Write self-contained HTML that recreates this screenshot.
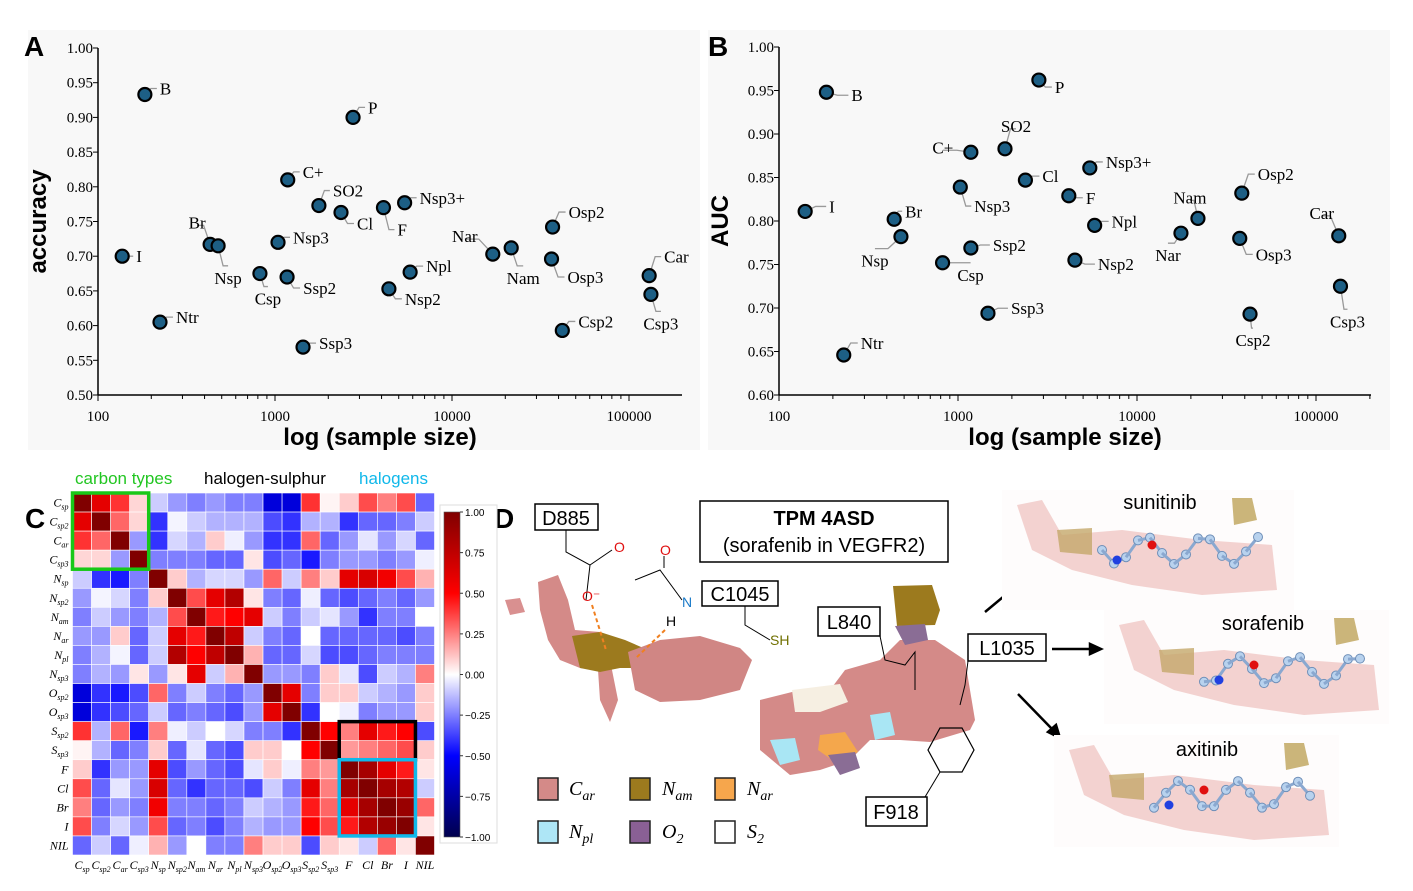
<!DOCTYPE html>
<html><head><meta charset="utf-8"><style>
html,body{margin:0;padding:0;background:#fff;}
svg{display:block;font-family:"Liberation Sans",sans-serif;}
.serif{font-family:"Liberation Serif",serif;}
</style></head><body>
<svg id="fig" width="1413" height="891" viewBox="0 0 1413 891" xmlns="http://www.w3.org/2000/svg">
<rect x="28" y="30" width="672" height="420" fill="#f8f8f8"/>
<rect x="708" y="30" width="682" height="420" fill="#f8f8f8"/>
<g id="pa"></g>
<g id="pb"></g>
<text x="24" y="56" font-size="28" font-weight="bold">A</text>
<text x="708" y="56" font-size="28" font-weight="bold">B</text>
<text x="25" y="528" font-size="28" font-weight="bold">C</text>
<text x="494" y="528" font-size="28" font-weight="bold">D</text>
<text x="75" y="484" font-size="17" fill="#22c622">carbon types</text>
<text x="204" y="484" font-size="17" fill="#000">halogen-sulphur</text>
<text x="359" y="484" font-size="17" fill="#10b8ea">halogens</text>
<g id="pc"></g>
<g id="pd">
  <path d="M505,600 L520,598 L525,612 L510,615Z" fill="#d99090"/>
  <path d="M538,582 L558,575 L568,600 L575,630 L600,632 L610,660 L618,700 L610,722 L600,700 L598,670 L580,668 L560,660 L548,640 L540,610Z" fill="#d48a88"/>
  <path d="M572,636 L600,632 L625,640 L648,650 L640,668 L620,668 L600,672 L580,668Z" fill="#9c7a1e"/>
  <path d="M628,652 L660,640 L700,636 L740,648 L752,660 L740,690 L700,700 L660,702 L635,690Z" fill="#d08684"/>
  <path d="M760,700 L800,690 L830,690 L845,670 L880,660 L900,640 L935,640 L965,660 L975,720 L970,730 L930,742 L900,740 L870,740 L850,760 L820,770 L790,775 L760,750Z" fill="#d48a88"/>
  <path d="M792,690 L840,684 L848,702 L820,712 L795,712Z" fill="#f6efe2"/>
  <path d="M893,586 L932,585 L940,610 L935,625 L897,626Z" fill="#9c7a1e"/>
  <path d="M895,626 L925,624 L928,640 L905,645Z" fill="#8a6d95"/>
  <path d="M770,740 L795,738 L800,760 L780,765Z" fill="#a9e6f4"/>
  <path d="M820,735 L845,732 L858,752 L835,762 L818,750Z" fill="#f4a74c"/>
  <path d="M828,755 L855,752 L860,768 L840,775Z" fill="#8a6d95"/>
  <path d="M870,715 L890,712 L895,735 L875,740Z" fill="#a9e6f4"/>
  <polyline points="566,530 566,552 590,565 586,600" fill="none" stroke="#000" stroke-width="1"/>
  <line x1="590" y1="565" x2="612" y2="550" stroke="#000" stroke-width="1"/>
  <text x="614" y="552" font-size="14" fill="#e01010">O</text>
  <text x="582" y="601" font-size="14" fill="#e01010">O⁻</text>
  <polyline points="635,580 660,570 682,600" fill="none" stroke="#000" stroke-width="1"/>
  <line x1="664" y1="568" x2="664" y2="556" stroke="#000" stroke-width="1"/>
  <text x="660" y="555" font-size="14" fill="#e01010">O</text>
  <text x="682" y="607" font-size="14" fill="#1a7ac8">N</text>
  <text x="666" y="626" font-size="14">H</text>
  <line x1="592" y1="605" x2="606" y2="650" stroke="#f08020" stroke-width="2" stroke-dasharray="4,3"/>
  <line x1="665" y1="630" x2="636" y2="658" stroke="#f08020" stroke-width="2" stroke-dasharray="4,3"/>
  <polyline points="745,606 745,625 770,640" fill="none" stroke="#000" stroke-width="1"/>
  <text x="770" y="645" font-size="14" fill="#707000">SH</text>
  <polyline points="880,636 885,660 905,665 915,652 915,690" fill="none" stroke="#000" stroke-width="1"/>
  <polyline points="968,661 965,685 960,705" fill="none" stroke="#000" stroke-width="1"/>
  <polygon points="940,728 962,728 974,750 962,772 940,772 928,750" fill="none" stroke="#000" stroke-width="1.2"/>
  <line x1="940" y1="772" x2="925" y2="797" stroke="#000" stroke-width="1"/>
  <rect x="535" y="504" width="63" height="26" fill="#fff" stroke="#000" stroke-width="1.5"/>
  <text x="566" y="525" font-size="20" text-anchor="middle">D885</text>
  <rect x="700" y="501" width="248" height="61" fill="#fff" stroke="#000" stroke-width="1.5"/>
  <text x="824" y="525" font-size="20" font-weight="bold" text-anchor="middle">TPM 4ASD</text>
  <text x="824" y="552" font-size="20" text-anchor="middle">(sorafenib in VEGFR2)</text>
  <rect x="702" y="581" width="76" height="25" fill="#fff" stroke="#000" stroke-width="1.5"/>
  <text x="740" y="601" font-size="20" text-anchor="middle">C1045</text>
  <rect x="818" y="607" width="62" height="29" fill="#fff" stroke="#000" stroke-width="1.5"/>
  <text x="849" y="629" font-size="20" text-anchor="middle">L840</text>
  <rect x="968" y="634" width="78" height="27" fill="#fff" stroke="#000" stroke-width="1.5"/>
  <text x="1007" y="655" font-size="20" text-anchor="middle">L1035</text>
  <rect x="866" y="797" width="61" height="29" fill="#fff" stroke="#000" stroke-width="1.5"/>
  <text x="896" y="819" font-size="20" text-anchor="middle">F918</text>
  <g class="serif" font-style="italic" font-size="20">
    <rect x="538" y="778" width="20" height="22" fill="#d48a88" stroke="#222" stroke-width="1.5"/>
    <text x="569" y="795">C<tspan font-size="14" dy="5">ar</tspan></text>
    <rect x="630" y="778" width="20" height="22" fill="#9c7a1e" stroke="#222" stroke-width="1.5"/>
    <text x="662" y="795">N<tspan font-size="14" dy="5">am</tspan></text>
    <rect x="715" y="778" width="20" height="22" fill="#f6a64c" stroke="#222" stroke-width="1.5"/>
    <text x="747" y="795">N<tspan font-size="14" dy="5">ar</tspan></text>
    <rect x="538" y="821" width="20" height="22" fill="#aee6f6" stroke="#222" stroke-width="1.5"/>
    <text x="569" y="838">N<tspan font-size="14" dy="5">pl</tspan></text>
    <rect x="630" y="821" width="20" height="22" fill="#8a6095" stroke="#222" stroke-width="1.5"/>
    <text x="662" y="838">O<tspan font-size="14" dy="5">2</tspan></text>
    <rect x="715" y="821" width="20" height="22" fill="#fff" stroke="#222" stroke-width="1.5"/>
    <text x="747" y="838">S<tspan font-size="14" dy="5">2</tspan></text>
  </g>
  <g stroke="#000" stroke-width="2.5" fill="#000">
    <line x1="985" y1="612" x2="1038" y2="568"/>
    <polygon points="1046,562 1031,566 1038,574"/>
    <line x1="1052" y1="649" x2="1092" y2="649"/>
    <polygon points="1101,649 1090,644 1090,654"/>
    <line x1="1018" y1="694" x2="1053" y2="730"/>
    <polygon points="1060,738 1056,725 1048,732"/>
  </g>
  <g id="ligands"></g>
  <text x="1160" y="509" font-size="20" text-anchor="middle">sunitinib</text>
  <text x="1263" y="630" font-size="20" text-anchor="middle">sorafenib</text>
  <text x="1207" y="756" font-size="20" text-anchor="middle">axitinib</text>
</g>
</svg>
<script>
const NS="http://www.w3.org/2000/svg";
const labelsA=["I","B","Ntr","Br","Nsp","Csp","Ssp2","Nsp3","C+","SO2","Cl","P","Ssp3","F","Nsp3+","Nsp2","Npl","Nar","Nam","Osp2","Osp3","Csp2","Car","Csp3"];
const sizesA=[137,184,224,430,477,822,1170,1040,1180,1770,2360,2760,1440,4100,5400,4400,5800,17000,21600,37000,36500,42000,130000,133000];
const accuracyA=[0.700,0.933,0.605,0.717,0.715,0.675,0.670,0.720,0.810,0.773,0.763,0.900,0.569,0.770,0.777,0.653,0.677,0.703,0.712,0.742,0.696,0.593,0.672,0.645];
const labelsB=["B","I","Br","Nsp","Ntr","Csp","Nsp3","C+","Ssp2","Ssp3","SO2","P","Cl","F","Nsp3+","Npl","Nsp2","Nar","Nam","Osp2","Osp3","Csp2","Car","Csp3"];
const sizesB=[184,140,440,480,230,820,1030,1180,1180,1470,1830,2830,2380,4160,5450,5800,4500,17600,21900,38500,37500,42800,134000,137000];
const aucB=[0.948,0.811,0.802,0.782,0.646,0.752,0.839,0.879,0.769,0.694,0.883,0.962,0.847,0.829,0.861,0.795,0.755,0.786,0.803,0.832,0.780,0.693,0.783,0.725];
const yTicksA=["0.50","0.55","0.60","0.65","0.70","0.75","0.80","0.85","0.90","0.95","1.00"];
const yTicksB=["0.60","0.65","0.70","0.75","0.80","0.85","0.90","0.95","1.00"];
const xTicks=["100","1000","10000","100000"];
const offA=[[14,0,"s"],[15,-6,"s"],[16,-5,"s"],[-13,-22,"m"],[10,32,"m"],[8,25,"m"],[16,11,"s"],[15,-5,"s"],[15,-8,"s"],[14,-15,"s"],[16,11,"s"],[15,-10,"s"],[16,-4,"s"],[14,22,"s"],[15,-5,"s"],[16,10,"s"],[16,-6,"s"],[-28,-18,"m"],[12,30,"m"],[16,-15,"s"],[16,18,"s"],[16,-9,"s"],[15,-19,"s"],[10,29,"m"]];
const offB=[[25,3,"s"],[24,-5,"s"],[11,-8,"s"],[-26,24,"m"],[17,-12,"s"],[28,12,"m"],[14,19,"s"],[-28,-5,"m"],[22,-3,"s"],[23,-5,"s"],[11,-23,"m"],[16,7,"s"],[17,-4,"s"],[17,2,"s"],[16,-6,"s"],[17,-4,"s"],[23,4,"s"],[-13,22,"m"],[-8,-21,"m"],[16,-19,"s"],[16,16,"s"],[3,26,"m"],[-17,-23,"m"],[7,35,"m"]];

function el(tag,attrs,parent){const e=document.createElementNS(NS,tag);for(const k in attrs)e.setAttribute(k,attrs[k]);parent.appendChild(e);return e;}

function scatter(g,cfg){
  const {x0,x1,y0,y1,ymin,ymax,xmaxLog,labels,xs,ys,offs,yTicks,ytitle,ytx}=cfg;
  const X=v=>x0+(Math.log10(v)-2)/(xmaxLog-2)*(x1-x0);
  const Y=v=>y1-(v-ymin)/(ymax-ymin)*(y1-y0);
  const ax=el("line",{x1:x0,y1:y1,x2:x1,y2:y1,stroke:"#000","stroke-width":1.5},g);
  
  
  const ay=el("line",{x1:x0,y1:y0,x2:x0,y2:y1,stroke:"#000","stroke-width":1.5},g);
  
  
  yTicks.forEach(t=>{const v=parseFloat(t),yy=Y(v);
    el("line",{x1:x0-5,y1:yy,x2:x0,y2:yy,stroke:"#000"},g);
    const tx=el("text",{x:x0-5,y:yy+5,"font-size":15,"text-anchor":"end",class:"serif"},g);
    tx.textContent=t;
    
    });
  for(let d=2;d<Math.ceil(xmaxLog)+1;d++){for(let m=1;m<10;m++){const v=m*Math.pow(10,d);if(Math.log10(v)>xmaxLog+1e-9)continue;const xx=X(v);
    el("line",{x1:xx,y1:y1,x2:xx,y2:y1+(m==1?6:4),stroke:"#000"},g);}}
  xTicks.forEach(t=>{const xx=X(parseFloat(t));
    const tx=el("text",{x:xx,y:y1+26,"font-size":15,"text-anchor":"middle",class:"serif"},g);
    tx.textContent=t;
    
    });
  const xt=el("text",{x:(x0+x1)/2-10,y:y1+50,"font-size":24,"font-weight":"bold","text-anchor":"middle"},g);
  xt.textContent="log (sample size)";
  
  
  const yt=el("text",{x:ytx,y:(y0+y1)/2,"font-size":24,"font-weight":"bold","text-anchor":"middle",transform:`rotate(-90 ${ytx} ${(y0+y1)/2})`},g);
  yt.textContent=ytitle;
  
  
  labels.forEach((lb,i)=>{const px=X(xs[i]),py=Y(ys[i]),o=offs[i];
    const tx=px+o[0],ty=py+o[1];
    const lx=o[2]=="s"?tx-3:tx, ly=o[2]=="s"?ty:(o[1]>0?ty-12:ty+3);
    const ln=el("polyline",{points:`${px},${py} ${(px+lx)/2},${ly} ${lx},${ly}`,fill:"none",stroke:"#999","stroke-width":1.3},g);
    
    
    const c=el("circle",{cx:px,cy:py,r:6.5,fill:"#1d5f85",stroke:"#000","stroke-width":2.2},g);
    
    
    const t=el("text",{x:tx,y:ty+6,"font-size":17,class:"serif","text-anchor":o[2]=="s"?"start":"middle"},g);
    t.textContent=lb;
    
    });
}
scatter(document.getElementById("pa"),{x0:98,x1:682,y0:48,y1:395,ymin:0.5,ymax:1.0,xmaxLog:2+584/177,labels:labelsA,xs:sizesA,ys:accuracyA,offs:offA,yTicks:yTicksA,ytitle:"accuracy",ytx:46});
scatter(document.getElementById("pb"),{x0:779,x1:1371,y0:47,y1:395,ymin:0.6,ymax:1.0,xmaxLog:2+592/179,labels:labelsB,xs:sizesB,ys:aucB,offs:offB,yTicks:yTicksB,ytitle:"AUC",ytx:728});

const atomTypes=[["C","sp"],["C","sp2"],["C","ar"],["C","sp3"],["N","sp"],["N","sp2"],["N","am"],["N","ar"],["N","pl"],["N","sp3"],["O","sp2"],["O","sp3"],["S","sp2"],["S","sp3"],["F",""],["Cl",""],["Br",""],["I",""],["NIL",""]];
const corr=[
[1,.6,.4,.08,-.1,-.2,-.25,-.2,-.25,-.25,-.6,-.6,.4,.02,.1,.35,.25,.35,-.3],
[.6,1,.3,.08,-.4,-.02,-.1,-.15,-.15,-.15,-.35,-.4,-.15,-.15,-.4,-.3,-.3,-.25,-.1],
[.4,.3,1,-.2,-.4,-.08,-.15,.1,-.03,-.2,-.4,-.4,.3,-.3,-.2,-.05,-.2,-.08,-.3],
[.08,.08,-.2,1,-.25,-.25,-.25,-.3,-.3,.05,-.35,-.3,-.45,-.25,-.2,-.2,-.25,-.2,-.03],
[-.1,-.4,-.45,-.25,1,.1,-.15,-.08,-.08,-.2,.3,-.1,.25,.1,.6,.65,.55,.35,.15],
[-.2,-.02,-.08,-.25,.1,1,.35,.6,.8,.05,-.25,-.3,-.03,-.3,-.35,-.3,-.25,-.3,-.2],
[-.25,-.1,-.2,-.25,-.15,.35,1,.45,.5,.6,-.1,-.25,-.1,-.05,-.2,-.4,-.25,-.25,0],
[-.2,-.2,.1,-.3,-.1,.6,.45,1,.75,-.1,-.25,-.3,0,-.3,-.3,-.3,-.3,-.35,-.25],
[-.25,-.15,-.02,-.3,-.1,.8,.5,.75,1,.15,-.3,-.3,-.08,-.35,-.35,-.3,-.25,-.25,-.25],
[-.25,-.15,-.2,.05,-.2,.05,.6,-.1,.15,1,-.2,-.2,-.25,.1,-.05,-.35,-.1,-.15,.25],
[-.6,-.4,-.45,-.35,.3,-.25,-.1,-.25,-.3,-.2,1,.6,-.25,.1,.1,-.1,-.15,-.2,.1],
[-.6,-.4,-.35,-.3,-.1,-.3,-.25,-.3,-.35,-.2,.6,1,-.4,0,-.03,-.25,-.2,-.2,.1],
[.4,-.15,.3,-.45,.25,-.03,-.1,0,-.08,-.25,-.25,-.4,1,.5,.25,.6,.45,.5,-.35],
[.02,-.15,-.3,-.25,.1,-.3,-.05,-.3,-.35,.1,.1,0,.5,1,.2,.25,.3,.35,.1],
[.1,-.4,-.2,-.2,.6,-.35,-.2,-.3,-.35,-.05,.1,-.03,.25,.2,1,.85,.6,.45,.05],
[.35,-.3,-.05,-.2,.65,-.3,-.4,-.3,-.3,-.35,-.1,-.25,.6,.25,.85,1,.85,.8,-.1],
[.25,-.3,-.2,-.25,.55,-.25,-.25,-.3,-.25,-.1,-.15,-.2,.45,.3,.6,.85,1,.9,.3],
[.35,-.25,-.08,-.2,.35,-.3,-.25,-.35,-.25,-.15,-.2,-.2,.5,.35,.45,.8,.9,1,.05],
[-.3,-.1,-.3,-.03,.15,-.2,0,-.25,-.25,.25,.1,.1,-.35,.1,.05,-.1,.3,.05,1]];
const cbTicks=["1.00","0.75","0.50","0.25","0.00","\u22120.25","\u22120.50","\u22120.75","\u22121.00"];
function seismic(v){v=Math.max(-1,Math.min(1,v));let r,g,b;
  if(v<=-0.5){const t=(v+1)/0.5;r=0;g=0;b=77+178*t;}
  else if(v<=0){const t=(v+0.5)/0.5;r=255*t;g=255*t;b=255;}
  else if(v<=0.5){const t=v/0.5;r=255;g=255*(1-t);b=255*(1-t);}
  else{const t=(v-0.5)/0.5;r=255-127*t;g=0;b=0;}
  return `rgb(${r|0},${g|0},${b|0})`;}
(function(){const g=document.getElementById("pc");const n=atomTypes.length;
  const hx0=72.5,hy0=493,cs=362/n;
  corr.forEach((row,i)=>row.forEach((v,j)=>{
    const r=el("rect",{x:hx0+j*cs,y:hy0+i*cs,width:cs,height:cs,fill:seismic(v),stroke:"#fff","stroke-width":0.6},g);
    
    }));
  atomTypes.forEach((a,i)=>{
    const t=el("text",{x:hx0-4,y:hy0+i*cs+cs/2+4,"font-size":12,"font-style":"italic","text-anchor":"end",class:"serif"},g);
    t.innerHTML=a[0]+(a[1]?`<tspan font-size="8" dy="3">${a[1]}</tspan>`:"");
    
    
    const u=el("text",{x:hx0+i*cs+cs/2,y:hy0+n*cs+14,"font-size":12,"font-style":"italic","text-anchor":"middle",class:"serif"},g);
    u.innerHTML=a[0]+(a[1]?`<tspan font-size="8" dy="3">${a[1]}</tspan>`:"");
    
    });
  const box=(r0,c0,r1,c1,col,nm)=>{const b=el("rect",{x:hx0+c0*cs,y:hy0+r0*cs,width:(c1-c0+1)*cs,height:(r1-r0+1)*cs,fill:"none",stroke:col,"stroke-width":3.5},g);
    
    };
  box(0,0,3,3,"#18c818","carbon-types-box");box(12,14,13,17,"#000","halogen-sulphur-box");box(14,14,17,17,"#10b8ea","halogens-box");
  const defs=el("defs",{},g);const lg=el("linearGradient",{id:"cbg",x1:0,y1:0,x2:0,y2:1},defs);
  for(let k=0;k<=20;k++){el("stop",{offset:k/20,"stop-color":seismic(1-2*k/20)},lg);}
  el("rect",{x:440,y:505,width:57,height:338,fill:"#fff",stroke:"#ddd"},g);
  const cb=el("rect",{x:444,y:512,width:16,height:325,fill:"url(#cbg)",stroke:"#555","stroke-width":0.6},g);
  
  
  cbTicks.forEach((t,k)=>{const yy=512+k*325/8;
    el("line",{x1:460,y1:yy,x2:463,y2:yy,stroke:"#333"},g);
    const tx=el("text",{x:465,y:yy+4,"font-size":10},g);tx.textContent=t;
    
    });
})();
(function(){const g=document.getElementById("ligands");
  const panels=[[1002,490,292,120],[1104,610,285,114],[1054,735,285,112]];
  panels.forEach((p,k)=>{
    const bg=el("rect",{x:p[0],y:p[1],width:p[2],height:p[3],fill:"#fefcfc"},g);
    
    
    el("path",{d:`M${p[0]+15},${p[1]+15} L${p[0]+40},${p[1]+10} L${p[0]+60},${p[1]+45} L${p[0]+120},${p[1]+40} L${p[0]+200},${p[1]+50} L${p[0]+270},${p[1]+55} L${p[0]+275},${p[1]+100} L${p[0]+200},${p[1]+105} L${p[0]+130},${p[1]+95} L${p[0]+70},${p[1]+80} L${p[0]+30},${p[1]+60}Z`,fill:"#efc4c2",opacity:0.75},g);
    el("path",{d:`M${p[0]+230},${p[1]+8} L${p[0]+250},${p[1]+8} L${p[0]+255},${p[1]+30} L${p[0]+232},${p[1]+35}Z`,fill:"#cbb57a"},g);
    el("path",{d:`M${p[0]+55},${p[1]+40} L${p[0]+90},${p[1]+38} L${p[0]+90},${p[1]+65} L${p[0]+58},${p[1]+62}Z`,fill:"#c4a86a",opacity:0.8},g);
    let prev=null;
    for(let a=0;a<14;a++){const cx=p[0]+100+a*12,cy=p[1]+60+Math.sin(a*1.3+k)*14;
      if(prev)el("line",{x1:prev[0],y1:prev[1],x2:cx,y2:cy,stroke:"#8aa8d0","stroke-width":3},g);
      el("circle",{cx:cx,cy:cy,r:4.5,fill:"#b8d2ee",stroke:"#6f8fb8"},g);prev=[cx,cy];}
    el("circle",{cx:p[0]+150,cy:p[1]+55,r:4.5,fill:"#e01010"},g);
    el("circle",{cx:p[0]+115,cy:p[1]+70,r:4.5,fill:"#2040e0"},g);
  });
})();
</script>
</body></html>
